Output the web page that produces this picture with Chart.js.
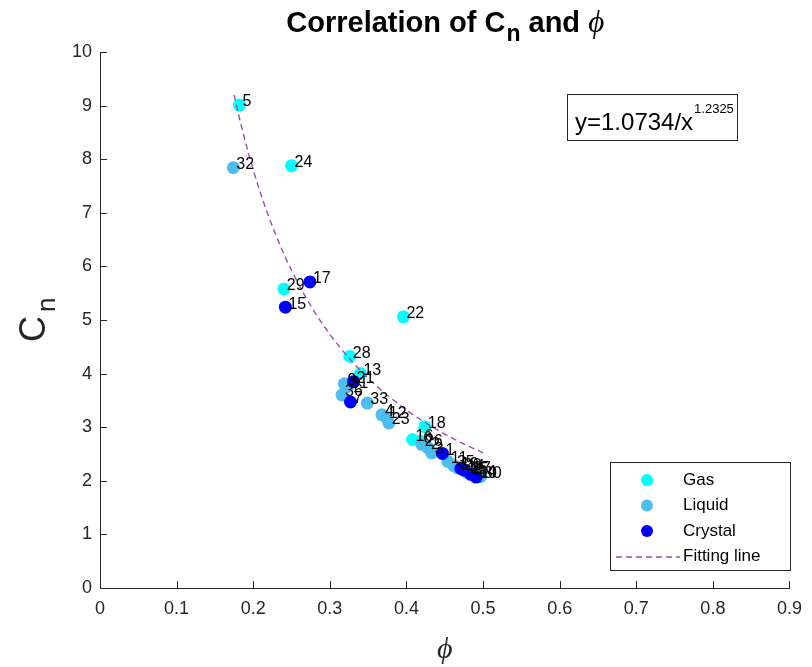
<!DOCTYPE html>
<html>
<head>
<meta charset="utf-8">
<script src="https://cdn.jsdelivr.net/npm/chart.js@4/dist/chart.umd.min.js"></script>
<style>
  html, body { margin: 0; padding: 0; background: #fff; }
</style>
</head>
<body>
<canvas id="cnChart" width="812" height="667"></canvas>
<script>
// ---- data ----
const gasLabels = [5, 24, 29, 22, 28, 13, 18, 16, 6, 27];
const gasPhi    = [0.182, 0.250, 0.240, 0.396, 0.326, 0.340, 0.424, 0.408, 0.418, 0.483];
const gasCn     = [9.01, 7.88, 5.58, 5.06, 4.32, 4.00, 3.01, 2.77, 2.74, 2.17];

const liquidLabels = [32, 9, 31, 36, 33, 4, 12, 23, 26, 2, 3, 11, 35, 19, 25, 34, 30];
const liquidPhi    = [0.174, 0.319, 0.323, 0.316, 0.349, 0.368, 0.373, 0.377, 0.420, 0.428, 0.433, 0.454, 0.462, 0.467, 0.480, 0.490, 0.497];
const liquidCn     = [7.84, 3.81, 3.76, 3.60, 3.45, 3.23, 3.19, 3.08, 2.68, 2.62, 2.52, 2.36, 2.28, 2.24, 2.15, 2.10, 2.08];

const crystalLabels = [17, 15, 21, 7, 1, 20, 14, 8, 10];
const crystalPhi    = [0.274, 0.242, 0.331, 0.327, 0.447, 0.471, 0.475, 0.484, 0.491];
const crystalCn     = [5.71, 5.24, 3.85, 3.47, 2.51, 2.23, 2.20, 2.12, 2.07];

// fitted power law y = a / x^b
const FIT_A = 1.0734;
const FIT_B = 1.2325;
const fitPhi = [0.175, 0.18, 0.19, 0.20, 0.21, 0.22, 0.24, 0.26, 0.28, 0.30, 0.33, 0.36, 0.40, 0.44, 0.47, 0.50];

const xTicks = [0, 0.1, 0.2, 0.3, 0.4, 0.5, 0.6, 0.7, 0.8, 0.9];
const yTicks = [0, 1, 2, 3, 4, 5, 6, 7, 8, 9, 10];

const COL_GAS = '#00FFFF';
const COL_LIQUID = '#4DBEEE';
const COL_CRYSTAL = '#0000FF';
const COL_FIT = '#9650B0';
const COL_AXIS = '#262626';
const SANS = '"Liberation Sans", Arial, Helvetica, sans-serif';
const SERIF = '"Liberation Serif", "Times New Roman", serif';

function toPoints(xs, ys, labels) {
    return xs.map((x, i) => ({ x: x, y: ys[i], id: labels ? labels[i] : null }));
}

const fitPoints = fitPhi.map(x => ({ x: x, y: FIT_A / Math.pow(x, FIT_B) }));

// ---- extra drawing: ticks, point numbers, titles, legend, equation ----
const decorPlugin = {
    id: 'decor',
    afterDatasetsDraw(chart) {
        const ctx = chart.ctx;
        const xs = chart.scales.x, ys = chart.scales.y;
        const area = chart.chartArea;
        ctx.save();

        // inward tick marks
        ctx.strokeStyle = COL_AXIS;
        ctx.lineWidth = 1;
        ctx.beginPath();
        xTicks.forEach(v => {
            const px = Math.round(xs.getPixelForValue(v)) + 0.5;
            ctx.moveTo(px, area.bottom);
            ctx.lineTo(px, area.bottom - 7);
        });
        yTicks.forEach(v => {
            const py = Math.round(ys.getPixelForValue(v)) + 0.5;
            ctx.moveTo(area.left, py);
            ctx.lineTo(area.left + 7, py);
        });
        ctx.stroke();

        // point numbers
        ctx.fillStyle = '#000';
        ctx.font = '16px ' + SANS;
        ctx.textAlign = 'left';
        ctx.textBaseline = 'middle';
        chart.data.datasets.forEach(ds => {
            if (!ds.numbered) return;
            ds.data.forEach(p => {
                ctx.fillText(String(p.id), xs.getPixelForValue(p.x) + 3, ys.getPixelForValue(p.y) - 3);
            });
        });

        // title
        ctx.textBaseline = 'alphabetic';
        const t1 = 'Correlation of C', t2 = 'n', t3 = ' and ', t4 = '\u03d5';
        const fBold = 'bold 29px ' + SANS, fSub = 'bold 23px ' + SANS, fPhi = 'italic 31px ' + SERIF;
        ctx.font = fBold; const w1 = ctx.measureText(t1).width, w3 = ctx.measureText(t3).width;
        ctx.font = fSub; const w2 = ctx.measureText(t2).width;
        ctx.font = fPhi; const w4 = ctx.measureText(t4).width;
        let tx = (area.left + area.right) / 2 - (w1 + w2 + w3 + w4) / 2;
        const ty = 32;
        ctx.fillStyle = '#000';
        ctx.font = fBold; ctx.fillText(t1, tx, ty); tx += w1;
        ctx.font = fSub; ctx.fillText(t2, tx + 1, ty + 9); tx += w2 + 1;
        ctx.font = fBold; ctx.fillText(t3, tx, ty); tx += w3;
        ctx.font = fPhi; ctx.fillText(t4, tx, ty);

        // y axis title C_n
        ctx.save();
        ctx.translate(45, 342);
        ctx.rotate(-Math.PI / 2);
        ctx.fillStyle = COL_AXIS;
        ctx.font = '36px ' + SANS;
        ctx.fillText('C', 0, 0);
        const cw = ctx.measureText('C').width;
        ctx.font = '26px ' + SANS;
        ctx.fillText('n', cw + 4, 10);
        ctx.restore();

        // x axis title phi
        ctx.fillStyle = COL_AXIS;
        ctx.font = 'italic 30px ' + SERIF;
        ctx.textAlign = 'center';
        ctx.fillText('\u03d5', (area.left + area.right) / 2, 658);

        // equation box
        ctx.textAlign = 'left';
        ctx.fillStyle = '#fff';
        ctx.fillRect(567, 94, 170, 46);
        ctx.strokeStyle = COL_AXIS;
        ctx.strokeRect(567.5, 94.5, 170, 46);
        ctx.fillStyle = '#000';
        ctx.font = '24px ' + SANS;
        const eq = 'y=' + FIT_A + '/x';
        ctx.fillText(eq, 575, 130);
        const ew = ctx.measureText(eq).width;
        ctx.font = '13px ' + SANS;
        ctx.fillText(String(FIT_B), 575 + ew + 1, 113);

        // legend
        ctx.fillStyle = '#fff';
        ctx.fillRect(610, 462, 180, 108);
        ctx.strokeRect(610.5, 462.5, 180, 108);
        const rows = [
            { label: 'Gas', color: COL_GAS },
            { label: 'Liquid', color: COL_LIQUID },
            { label: 'Crystal', color: COL_CRYSTAL },
            { label: 'Fitting line', color: COL_FIT, line: true }
        ];
        ctx.font = '17px ' + SANS;
        ctx.textBaseline = 'middle';
        rows.forEach((r, i) => {
            const ry = 480 + i * 25.5;
            if (r.line) {
                ctx.strokeStyle = r.color;
                ctx.lineWidth = 1.3;
                ctx.setLineDash([6, 4]);
                ctx.beginPath();
                ctx.moveTo(616, ry + 0.5);
                ctx.lineTo(680, ry + 0.5);
                ctx.stroke();
                ctx.setLineDash([]);
            } else {
                ctx.fillStyle = r.color;
                ctx.beginPath();
                ctx.arc(647, ry, 6, 0, Math.PI * 2);
                ctx.fill();
            }
            ctx.fillStyle = '#000';
            ctx.fillText(r.label, 683, ry);
        });

        ctx.restore();
    }
};

const scatterStyle = {
    pointRadius: 6.5,
    pointHoverRadius: 6.5,
    pointBorderWidth: 0,
    showLine: false
};

new Chart(document.getElementById('cnChart'), {
    type: 'scatter',
    data: {
        datasets: [
            {
                label: 'Fitting line',
                data: fitPoints,
                showLine: true,
                borderColor: COL_FIT,
                borderWidth: 1.4,
                borderDash: [6, 4],
                pointRadius: 0,
                cubicInterpolationMode: 'monotone',
                fill: false
            },
            Object.assign({ label: 'Crystal', data: toPoints(crystalPhi, crystalCn, crystalLabels),
                backgroundColor: COL_CRYSTAL, borderColor: COL_CRYSTAL, numbered: true }, scatterStyle),
            Object.assign({ label: 'Liquid', data: toPoints(liquidPhi, liquidCn, liquidLabels),
                backgroundColor: COL_LIQUID, borderColor: COL_LIQUID, numbered: true }, scatterStyle),
            Object.assign({ label: 'Gas', data: toPoints(gasPhi, gasCn, gasLabels),
                backgroundColor: COL_GAS, borderColor: COL_GAS, numbered: true }, scatterStyle)
        ]
    },
    options: {
        responsive: false,
        animation: false,
        layout: { padding: { top: 52, right: 15, left: 0, bottom: 0 } },
        plugins: {
            legend: { display: false },
            tooltip: { enabled: false },
            title: { display: false }
        },
        scales: {
            x: {
                type: 'linear',
                min: 0,
                max: 0.9,
                afterBuildTicks: s => { s.ticks = xTicks.map(v => ({ value: v })); },
                afterFit: s => { s.height = 79; },
                grid: { display: false, drawTicks: false },
                border: { display: true, color: COL_AXIS, width: 1 },
                ticks: {
                    color: COL_AXIS,
                    font: { family: SANS, size: 18 },
                    padding: 10,
                    maxRotation: 0,
                    callback: v => String(v)
                }
            },
            y: {
                type: 'linear',
                min: 0,
                max: 10,
                afterBuildTicks: s => { s.ticks = yTicks.map(v => ({ value: v })); },
                afterFit: s => { s.width = 100; },
                grid: { display: false, drawTicks: false },
                border: { display: true, color: COL_AXIS, width: 1 },
                ticks: {
                    color: COL_AXIS,
                    font: { family: SANS, size: 18 },
                    padding: 8,
                    callback: v => String(v)
                }
            }
        }
    },
    plugins: [decorPlugin]
});
</script>
</body>
</html>
